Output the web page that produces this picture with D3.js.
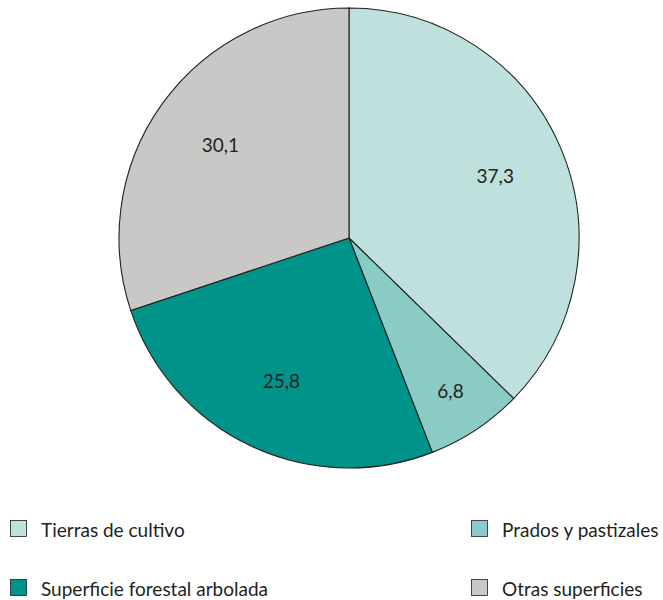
<!DOCTYPE html>
<html><head><meta charset="utf-8">
<script src="https://cdn.jsdelivr.net/npm/d3@7"></script>
<style>body{margin:0;background:#fff;} svg{display:block;}</style>
</head><body>
<script>
const categories = ["Tierras de cultivo","Prados y pastizales","Superficie forestal arbolada","Otras superficies"];
const values = [37.3, 6.8, 25.8, 30.1];
const labels = ["37,3","6,8","25,8","30,1"];
const colors = ["#bfe1de","#8bcbc6","#00938a","#c8c8c7"];

const W=663,H=600, cx=349, cy=238, R=230;
const svg=d3.select("body").append("svg").attr("width",W).attr("height",H);
const font="Lato, 'Open Sans', sans-serif";
const pie=d3.pie().sort(null).value(d=>d)(values);
const arc=d3.arc().innerRadius(0).outerRadius(R);
const g=svg.append("g").attr("transform",`translate(${cx},${cy})`);
g.selectAll("path").data(pie).join("path")
 .attr("d",arc).attr("fill",(d,i)=>colors[i])
 .attr("stroke","#231f20").attr("stroke-width",1.1);
g.selectAll("text").data(pie).join("text")
 .attr("transform",(d,i)=>{
   const k = (d.endAngle-d.startAngle)<0.6 ? 0.80 : 0.69;
   const a=(d.startAngle+d.endAngle)/2;
   return `translate(${Math.sin(a)*R*k},${-Math.cos(a)*R*k})`;})
 .attr("text-anchor","middle").attr("dy","0.36em")
 .attr("font-family",font).attr("font-size",19).attr("fill","#231f20")
 .text((d,i)=>labels[i]);

const leg=[{x:10,y:520},{x:471,y:520},{x:10,y:579},{x:471,y:579}];
categories.forEach((c,i)=>{
  const p=leg[i];
  svg.append("rect").attr("x",p.x+0.5).attr("y",p.y+0.5).attr("width",16).attr("height",16)
   .attr("fill",colors[i]).attr("stroke","#231f20").attr("stroke-width",0.8);
  svg.append("text").attr("x",p.x+31).attr("y",p.y+17).attr("font-family",font)
   .attr("font-size",19).attr("fill","#231f20").text(c);
});
</script>
</body></html>
